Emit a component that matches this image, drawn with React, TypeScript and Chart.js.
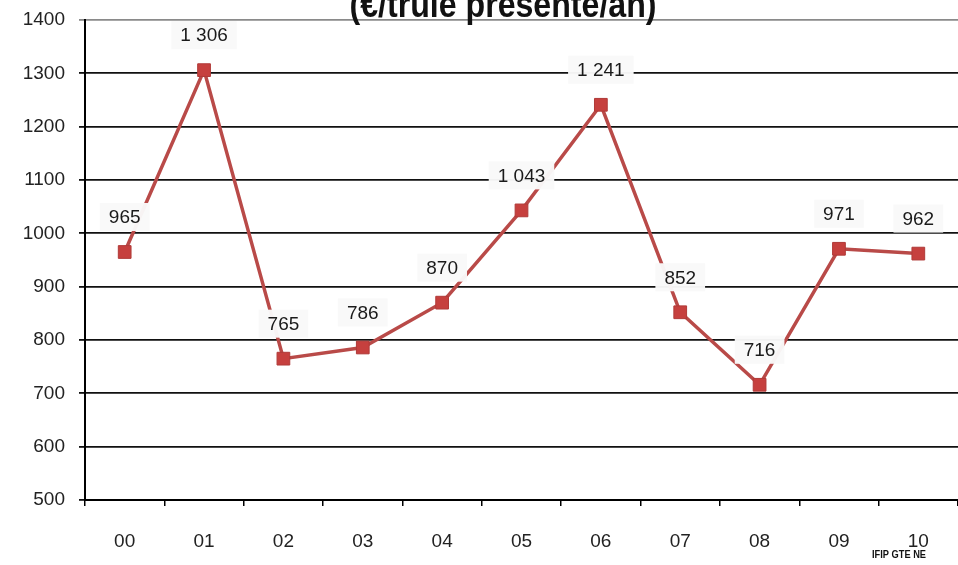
import React, { useEffect, useRef } from "react";
import { Chart, registerables } from "chart.js";

Chart.register(...registerables);

const categories = ["00", "01", "02", "03", "04", "05", "06", "07", "08", "09", "10"];
const values = [965, 1306, 765, 786, 870, 1043, 1241, 852, 716, 971, 962];
const yTicks = [500, 600, 700, 800, 900, 1000, 1100, 1200, 1300, 1400];
const titleText = "(€/truie présente/an)";
const sourceText = "IFIP GTE NE";

const FONT = "'Liberation Sans', Arial, sans-serif";

function fmt(v: number): string {
  const s = String(v);
  return s.length > 3 ? s.slice(0, s.length - 3) + " " + s.slice(-3) : s;
}

const overlay = {
  id: "overlay",
  afterDatasetsDraw(chart: any) {
    const ctx = chart.ctx;
    const meta = chart.getDatasetMeta(0);
    ctx.save();
    ctx.font = `19px ${FONT}`;
    ctx.textAlign = "center";
    ctx.textBaseline = "middle";
    meta.data.forEach((pt: any, i: number) => {
      const txt = fmt(values[i]);
      const w = ctx.measureText(txt).width + 18;
      const h = 28;
      const cx = pt.x;
      const cy = pt.y - 35;
      ctx.fillStyle = "rgba(249,249,249,0.97)";
      ctx.fillRect(cx - w / 2, cy - h / 2, w, h);
      ctx.fillStyle = "#1a1a1a";
      ctx.fillText(txt, cx, cy + 1);
    });
    ctx.restore();
  },
  afterDraw(chart: any) {
    const ctx = chart.ctx;
    ctx.save();
    ctx.font = `bold 36px ${FONT}`;
    ctx.textAlign = "center";
    ctx.textBaseline = "alphabetic";
    ctx.fillStyle = "#111";
    ctx.fillText(titleText, 503, 17, 307);
    ctx.font = `bold 11px ${FONT}`;
    ctx.textAlign = "center";
    ctx.fillText(sourceText, 899, 558, 54);
    ctx.restore();
  },
};

export default function App() {
  const ref = useRef<HTMLCanvasElement | null>(null);
  useEffect(() => {
    if (!ref.current) return;
    const chart = new Chart(ref.current, {
      type: "line",
      data: {
        labels: categories,
        datasets: [
          {
            data: values,
            borderColor: "#b94a48",
            backgroundColor: "#c6403e",
            borderWidth: 3.5,
            pointStyle: "rect",
            pointRadius: 9,
            pointBorderColor: "#b03a38",
            pointBorderWidth: 1,
            pointBackgroundColor: "#c6403e",
            tension: 0,
          },
        ],
      },
      options: {
        responsive: false,
        animation: false,
        layout: { padding: { top: 20, left: 0, right: 0, bottom: 0 } },
        plugins: { legend: { display: false }, tooltip: { enabled: false }, title: { display: false } },
        scales: {
          x: {
            offset: true,
            grid: {
              offset: true,
              drawOnChartArea: false,
              drawTicks: true,
              tickLength: 6,
              color: "#000",
              lineWidth: 1.5,
            },
            border: { color: "#000", width: 2 },
            ticks: { color: "#222", font: { family: FONT, size: 19 }, padding: 24, maxRotation: 0 },
            afterFit: (s: any) => {
              s.height = 65;
              s.paddingLeft = 0;
              s.paddingRight = 0;
            },
          },
          y: {
            min: 500,
            max: 1400,
            afterBuildTicks: (s: any) => {
              s.ticks = yTicks.map((v) => ({ value: v }));
            },
            grid: {
              color: (c: any) => (c.tick && c.tick.value === 1400 ? "#8a8a8a" : "#111"),
              lineWidth: 1.8,
              tickLength: 6,
            },
            border: { color: "#000", width: 2 },
            ticks: {
              color: "#222",
              font: { family: FONT, size: 19 },
              padding: 14,
              callback: (v: any) => String(v),
            },
            afterFit: (s: any) => {
              s.width = 85;
              s.paddingTop = 0;
              s.paddingBottom = 0;
            },
          },
        },
      },
      plugins: [overlay],
    });
    return () => chart.destroy();
  }, []);
  return (
    <div
      style={{
        position: "fixed",
        left: 0,
        top: 0,
        width: 958,
        height: 565,
        overflow: "hidden",
        background: "#fff",
      }}
    >
      <canvas ref={ref} width={968} height={565} style={{ display: "block" }} />
    </div>
  );
}
